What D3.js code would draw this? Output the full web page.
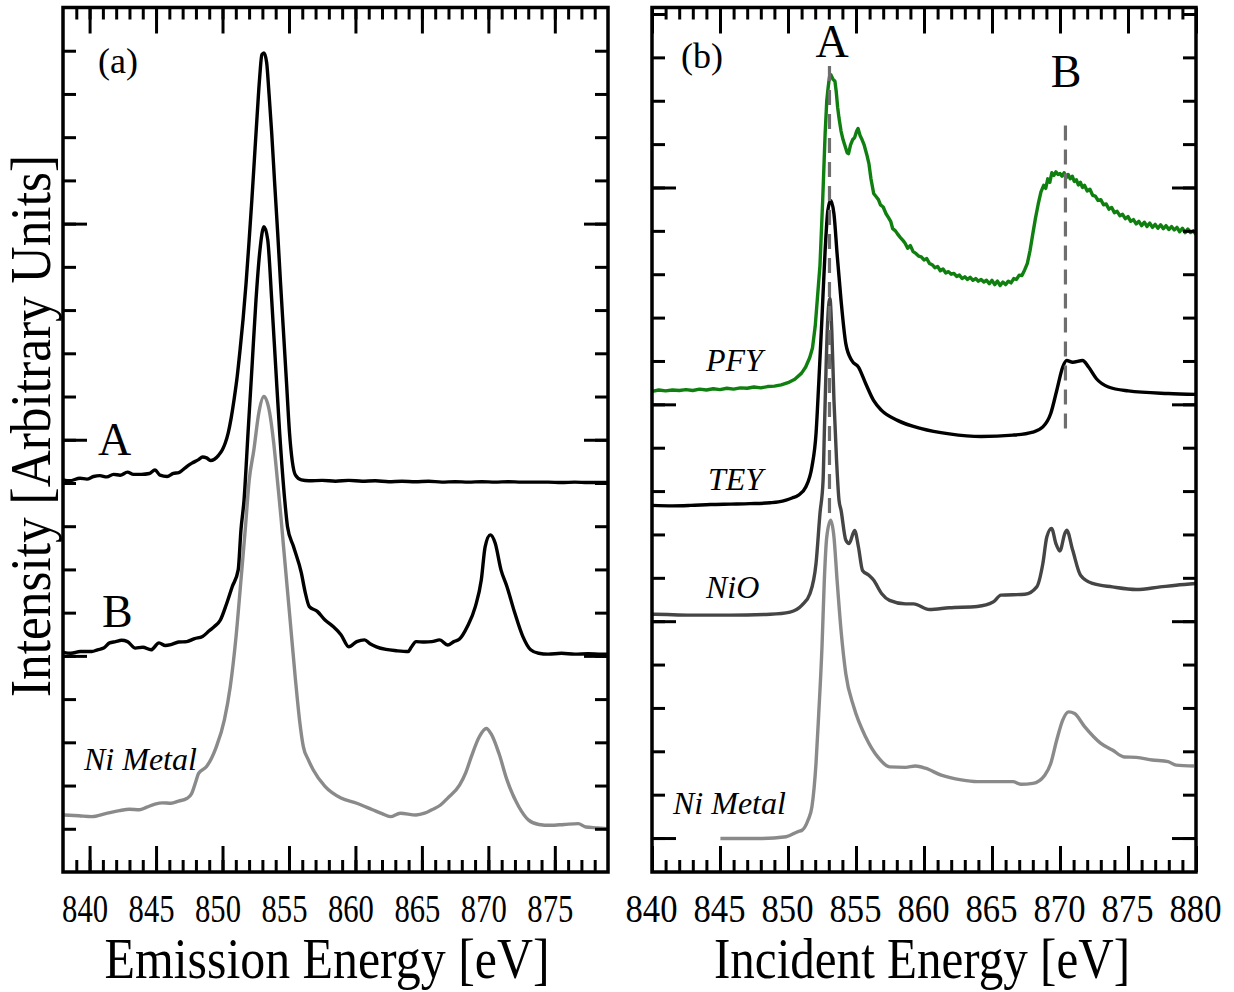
<!DOCTYPE html>
<html><head><meta charset="utf-8">
<script src="https://cdn.jsdelivr.net/npm/d3@7"></script>
<style>
body{margin:0;background:#fff}
svg{display:block}
text{font-family:"Liberation Serif","Times New Roman",serif;fill:#000}
</style>
</head><body>
<svg id="c" width="1234" height="992"></svg>
<script>
// ---------------- DATA ----------------
const leftTickLabels = [840,845,850,855,860,865,870,875];
const rightTickLabels = [840,845,850,855,860,865,870,875,880];

// Panel (a): emission spectra  [energy eV, intensity a.u.]
const emissionA = [[838.0,9.07],[838.5,9.05],[839.28,9.11],[839.8,9.09],[840.3,9.15],[840.77,9.17],[841.3,9.14],[841.8,9.2],[842.3,9.18],[842.85,9.25],[843.3,9.2],[843.9,9.2],[844.5,9.22],[844.92,9.3],[845.3,9.18],[845.83,9.15],[846.3,9.22],[846.71,9.24],[847.0,9.3],[847.31,9.38],[847.7,9.46],[848.2,9.54],[848.5,9.6],[848.8,9.58],[849.1,9.52],[849.39,9.55],[849.7,9.64],[849.99,9.77],[850.2,9.92],[850.43,10.16],[850.65,10.5],[850.87,10.93],[851.1,11.45],[851.32,12.08],[851.55,12.8],[851.77,13.61],[852.0,14.6],[852.21,15.56],[852.4,16.5],[852.6,17.48],[852.8,18.4],[852.96,18.91],[853.12,18.95],[853.32,18.73],[853.5,18.0],[853.7,17.10],[853.92,15.95],[854.15,14.79],[854.37,13.6],[854.59,12.48],[854.82,11.3],[855.04,10.16],[855.25,9.5],[855.49,9.18],[855.93,9.07],[856.5,9.05],[857.5,9.06],[858.5,9.04],[859.5,9.06],[860.5,9.04],[861.5,9.05],[862.5,9.03],[863.5,9.04],[864.5,9.03],[865.5,9.04],[866.5,9.02],[867.5,9.03],[868.5,9.02],[869.5,9.03],[870.5,9.02],[871.5,9.03],[872.5,9.02],[873.5,9.02],[874.5,9.02],[875.5,9.01],[876.5,9.02],[877.5,9.01],[878.5,9.01],[879,9.01]];

const emissionB = [[838.0,5.08],[838.6,5.06],[839.3,5.1],[840.17,5.10],[840.6,5.14],[841.06,5.18],[841.5,5.3],[841.96,5.33],[842.4,5.36],[842.85,5.33],[843.44,5.18],[844.0,5.2],[844.63,5.14],[845.22,5.30],[845.7,5.24],[846.12,5.26],[846.7,5.32],[847.31,5.33],[847.9,5.4],[848.5,5.45],[849.0,5.58],[849.39,5.68],[849.84,5.83],[850.3,6.2],[850.73,6.6],[851.18,6.99],[851.39,7.92],[851.62,8.61],[851.92,10.16],[852.22,11.69],[852.52,13.24],[852.82,14.40],[853.12,14.93],[853.40,14.63],[853.70,13.24],[854.00,11.69],[854.30,10.16],[854.68,8.61],[854.89,7.99],[855.34,7.53],[855.93,6.92],[856.2,6.5],[856.53,6.14],[857.13,6.03],[857.71,5.83],[858.32,5.68],[858.91,5.49],[859.50,5.21],[860.10,5.33],[860.69,5.37],[861.1,5.28],[861.58,5.21],[862.3,5.15],[863.07,5.12],[863.96,5.10],[864.2,5.2],[864.56,5.33],[865.2,5.32],[865.75,5.33],[866.34,5.37],[866.94,5.25],[867.4,5.33],[867.83,5.39],[868.42,5.68],[869.02,6.14],[869.47,6.76],[869.76,7.53],[870.15,7.80],[870.51,7.61],[870.95,6.99],[871.40,6.60],[871.99,5.99],[872.59,5.45],[873.18,5.14],[873.78,5.06],[874.5,5.04],[875.5,5.06],[876.5,5.04],[877.5,5.05],[878.5,5.04],[879,5.04]];

const emissionNiMetal = [[838.09,1.32],[839.2,1.3],[840.17,1.28],[841.2,1.35],[842.25,1.42],[843.0,1.45],[843.74,1.44],[844.3,1.5],[844.92,1.57],[845.5,1.6],[846.12,1.59],[846.7,1.64],[847.31,1.70],[847.67,1.81],[848.0,2.1],[848.20,2.28],[848.8,2.44],[849.2,2.65],[849.54,2.90],[850.14,3.52],[850.58,4.28],[851.02,5.45],[851.39,6.76],[851.71,7.92],[852.01,9.07],[852.36,9.77],[852.73,10.62],[853.11,11.0],[853.55,10.62],[853.85,9.93],[854.15,9.00],[854.4,8.2],[854.59,7.53],[855.04,5.99],[855.49,4.44],[855.8,3.5],[856.08,2.90],[856.45,2.6],[856.83,2.36],[857.71,1.98],[858.91,1.71],[860.10,1.59],[861.29,1.44],[862.0,1.35],[862.63,1.28],[863.37,1.36],[864.56,1.32],[865.2,1.36],[865.75,1.44],[866.4,1.55],[866.94,1.71],[867.83,2.01],[868.3,2.3],[868.72,2.67],[869.32,3.13],[869.85,3.32],[870.20,3.20],[870.80,2.74],[871.40,2.13],[872.29,1.51],[873.03,1.20],[873.8,1.1],[874.67,1.08],[875.7,1.1],[876.75,1.12],[877.34,1.04],[878.2,1.02],[878.98,1.0]];

// Panel (b): absorption spectra [incident energy eV, intensity a.u.]
const incidentPFY = [[840.0,10.30],[840.5,10.33],[841,10.31],[841.5,10.33],[842,10.32],[842.5,10.34],[843,10.32],[843.5,10.35],[844,10.33],[844.5,10.36],[845,10.34],[845.5,10.37],[846,10.35],[846.5,10.38],[847,10.37],[847.5,10.40],[848,10.38],[848.5,10.41],[849,10.42],[849.5,10.45],[850,10.50],[850.5,10.58],[851,10.72],[851.3,10.86],[851.6,11.08],[851.8,11.3],[852.0,11.8],[852.2,12.6],[852.35,13.2],[852.55,14.7],[852.73,16.24],[852.85,17.0],[852.95,17.3],[853.05,17.55],[853.15,17.6],[853.3,17.5],[853.45,17.45],[853.55,17.2],[853.65,16.85],[853.75,16.6],[853.9,16.3],[854.05,16.1],[854.2,15.95],[854.35,15.8],[854.45,15.78],[854.6,15.98],[854.75,16.1],[854.9,16.15],[855.05,16.3],[855.15,16.36],[855.3,16.2],[855.45,16.1],[855.6,15.98],[855.8,15.75],[855.95,15.55],[856.1,15.2],[856.3,14.86],[856.5,14.78],[856.65,14.72],[856.8,14.6],[857.0,14.55],[857.2,14.4],[857.4,14.3],[857.55,14.22],[857.7,14.05],[857.9,14.0],[858.05,13.93],[858.25,13.85],[858.45,13.78],[858.6,13.72],[858.8,13.60],[859.0,13.66],[859.2,13.52],[859.4,13.48],[859.6,13.42],[859.8,13.40],[860.0,13.33],[860.2,13.36],[860.4,13.25],[860.6,13.22],[860.8,13.15],[861.0,13.18],[861.2,13.08],[861.4,13.12],[861.6,13.03],[861.8,13.06],[862.0,13.0],[862.2,13.02],[862.4,12.95],[862.6,12.98],[862.8,12.9],[863.0,12.94],[863.2,12.88],[863.4,12.93],[863.6,12.86],[863.8,12.9],[864.0,12.84],[864.2,12.88],[864.4,12.82],[864.6,12.86],[864.8,12.78],[865.0,12.86],[865.2,12.76],[865.4,12.84],[865.6,12.74],[865.8,12.82],[866.0,12.76],[866.2,12.84],[866.4,12.8],[866.6,12.9],[866.8,12.88],[867.0,12.98],[867.2,12.97],[867.4,13.1],[867.6,13.25],[867.8,13.55],[868.0,13.93],[868.2,14.3],[868.4,14.62],[868.6,14.9],[868.8,15.05],[868.95,14.98],[869.1,15.2],[869.25,15.12],[869.4,15.34],[869.55,15.28],[869.7,15.36],[869.85,15.3],[870.0,15.32],[870.15,15.26],[870.3,15.34],[870.45,15.22],[870.6,15.3],[870.75,15.2],[870.9,15.26],[871.05,15.14],[871.2,15.18],[871.35,15.06],[871.5,15.12],[871.65,15.0],[871.8,15.05],[872.0,14.92],[872.2,14.96],[872.4,14.82],[872.6,14.8],[872.8,14.7],[873.0,14.72],[873.2,14.6],[873.4,14.62],[873.6,14.5],[873.8,14.54],[874.0,14.42],[874.2,14.45],[874.4,14.35],[874.6,14.38],[874.8,14.28],[875.0,14.33],[875.2,14.22],[875.4,14.26],[875.6,14.16],[875.8,14.22],[876.0,14.12],[876.2,14.2],[876.4,14.1],[876.6,14.18],[876.8,14.08],[877.0,14.15],[877.2,14.06],[877.4,14.14],[877.6,14.05],[877.8,14.12],[878.0,14.03],[878.2,14.1],[878.4,14.02],[878.6,14.08],[878.8,13.98],[879.0,14.06],[879.2,13.96],[879.4,14.04],[879.6,13.96],[879.8,14.0],[880.0,13.92]];

const incidentTEY = [[840.0,7.67],[841.5,7.66],[842.84,7.67],[844.3,7.69],[845.76,7.70],[847.2,7.71],[848.69,7.73],[849.3,7.75],[849.86,7.79],[850.3,7.84],[850.74,7.90],[851.32,8.10],[851.76,8.56],[852.06,9.32],[852.26,10.48],[852.50,12.01],[852.73,13.55],[852.93,14.47],[853.14,14.70],[853.38,14.39],[853.61,13.47],[853.90,12.40],[854.25,11.40],[854.69,11.01],[855.18,10.86],[855.71,10.48],[856.29,10.09],[856.88,9.86],[858.05,9.63],[859.81,9.44],[861.86,9.32],[864.20,9.26],[866.54,9.29],[868.00,9.36],[868.74,9.48],[869.32,9.79],[869.76,10.32],[870.20,10.86],[870.49,11.01],[870.93,10.97],[871.66,11.01],[872.10,10.86],[872.68,10.59],[873.56,10.40],[875.02,10.31],[877.95,10.25],[880.00,10.23]];

const incidentNiO = [[840.0,5.16],[840.21,5.16],[842.84,5.14],[845.76,5.14],[848.69,5.16],[850.15,5.21],[851.03,5.37],[851.62,5.64],[852.06,6.33],[852.35,7.48],[852.58,8.25],[852.67,9.32],[852.80,10.86],[852.92,11.94],[853.08,12.44],[853.22,11.7],[853.38,10.09],[853.57,8.71],[853.75,7.79],[853.90,7.56],[854.25,6.87],[854.49,6.79],[854.90,7.09],[855.18,6.71],[855.48,6.17],[855.95,6.06],[856.29,5.95],[856.88,5.64],[857.47,5.48],[858.64,5.40],[859.23,5.40],[860.40,5.27],[861.86,5.31],[863.91,5.34],[865.08,5.44],[865.66,5.60],[867.42,5.62],[868.29,5.79],[868.74,6.33],[869.03,6.94],[869.38,7.14],[869.70,6.79],[869.99,6.62],[870.35,7.02],[870.49,7.10],[870.93,6.64],[871.51,6.06],[872.39,5.87],[873.85,5.79],[875.61,5.73],[877.37,5.79],[878.54,5.83],[880.00,5.87]];

const incidentNiMetal = [[845.03,-0.01],[848.10,-0.01],[849.86,0.03],[850.74,0.15],[851.03,0.18],[851.47,0.41],[851.76,0.72],[852.06,1.72],[852.26,2.87],[852.50,4.41],[852.67,5.94],[852.85,6.94],[853.14,7.33],[853.38,6.94],[853.61,5.94],[853.90,4.79],[854.25,3.79],[854.84,3.02],[855.71,2.33],[856.60,1.87],[857.47,1.64],[858.64,1.63],[859.37,1.66],[860.10,1.61],[861.27,1.45],[862.74,1.34],[863.91,1.30],[866.54,1.30],[867.12,1.24],[868.00,1.26],[868.88,1.45],[869.32,1.72],[869.76,2.26],[870.20,2.72],[870.64,2.91],[871.07,2.87],[871.81,2.57],[872.98,2.19],[873.85,2.03],[874.73,1.87],[875.61,1.86],[876.78,1.80],[877.95,1.76],[878.54,1.68],[879.85,1.66]];

// dashed guide lines (energy, top, bottom)
const guideEnergy = [853.05, 870.4];
const guideTop = [17.8, 16.43];
const guideBottom = [7.3, 9.35];

// ---------------- DRAW ----------------
const svg = d3.select("#c");
const FONT = '"Liberation Serif","Times New Roman",serif';

function range(a, b){ const r=[]; for(let i=a;i<=b;i++) r.push(i); return r; }

function drawPanel(o){
  const x = d3.scaleLinear().domain(o.xd).range([o.x0, o.x1]);
  const y = d3.scaleLinear().domain(o.yd).range([o.y0, o.y1]);
  const g = svg.append("g");
  const line = (curve) => d3.line().x(d=>x(d[0])).y(d=>y(d[1])).curve(curve);

  o.series.forEach(s => {
    g.append("path").datum(s.data)
      .attr("d", line(s.linear ? d3.curveLinear : d3.curveMonotoneX))
      .attr("fill","none").attr("stroke", s.color).attr("stroke-width", 3.4)
      .attr("stroke-linejoin","round");
  });
  if (o.guides) {
    o.guides.forEach(gd => {
      g.append("path").datum([[gd[0],gd[1]],[gd[0],gd[2]]])
        .attr("d", line(d3.curveLinear))
        .attr("stroke","#6e6e6e").attr("stroke-width",3.2)
        .attr("stroke-dasharray","15,9").attr("fill","none");
    });
  }

  const clean = sel => {
    sel.select(".domain").remove();
    sel.attr("font-family", null).attr("font-size", null);
    sel.selectAll("line").attr("stroke","#000").attr("stroke-width",3);
  };
  // x minor ticks
  g.append("g").attr("transform",`translate(0,${o.y0})`)
    .call(d3.axisBottom(x).tickValues(o.xMinor).tickSizeInner(-12).tickSizeOuter(0).tickFormat("")).call(clean);
  g.append("g").attr("transform",`translate(0,${o.y1})`)
    .call(d3.axisTop(x).tickValues(o.xMinor).tickSizeInner(-12).tickSizeOuter(0).tickFormat("")).call(clean);
  // x major ticks
  const xb = g.append("g").attr("transform",`translate(0,${o.y0})`)
    .call(d3.axisBottom(x).tickValues(o.xMajor).tickSizeInner(-26).tickSizeOuter(0).tickFormat(d3.format("d"))).call(clean);
  xb.selectAll("text").attr("y", 50).attr("dy", null).attr("dx", o.labelDx)
    .attr("fill","#000").style("font-family", FONT).style("font-size","40px")
    .attr("textLength", o.labelW).attr("lengthAdjust","spacingAndGlyphs");
  g.append("g").attr("transform",`translate(0,${o.y1})`)
    .call(d3.axisTop(x).tickValues(o.xMajor).tickSizeInner(-26).tickSizeOuter(0).tickFormat("")).call(clean);
  // y ticks
  g.append("g").attr("transform",`translate(${o.x0},0)`)
    .call(d3.axisLeft(y).tickValues(o.yMinor).tickSizeInner(-13).tickSizeOuter(0).tickFormat("")).call(clean);
  g.append("g").attr("transform",`translate(${o.x1},0)`)
    .call(d3.axisRight(y).tickValues(o.yMinor).tickSizeInner(-13).tickSizeOuter(0).tickFormat("")).call(clean);
  g.append("g").attr("transform",`translate(${o.x0},0)`)
    .call(d3.axisLeft(y).tickValues(o.yMajor).tickSizeInner(-24).tickSizeOuter(0).tickFormat("")).call(clean);
  g.append("g").attr("transform",`translate(${o.x1},0)`)
    .call(d3.axisRight(y).tickValues(o.yMajor).tickSizeInner(-24).tickSizeOuter(0).tickFormat("")).call(clean);

  g.append("rect").attr("x", o.x0).attr("y", o.y1).attr("width", o.x1-o.x0).attr("height", o.y0-o.y1)
    .attr("fill","none").attr("stroke","#000").attr("stroke-width",3.5);
  return {x, y, g};
}

// Panel (a)
drawPanel({
  xd:[838,879], x0:63, x1:608, yd:[0,20], y0:872, y1:7.5,
  xMinor: range(839,878), xMajor: leftTickLabels,
  yMinor: range(1,19), yMajor:[5,10,15],
  labelDx: -5, labelW: 46,
  series:[
    {data: emissionNiMetal, color:"#8a8a8a"},
    {data: emissionB, color:"#000"},
    {data: emissionA, color:"#000"}
  ]
});

// Panel (b)
drawPanel({
  xd:[840,880], x0:652, x1:1196, yd:[-0.783,19.15], y0:872, y1:7.5,
  xMinor: range(841,879), xMajor: rightTickLabels,
  yMinor: range(0,19), yMajor:[0,5,10,15],
  labelDx: -1, labelW: 52,
  series:[
    {data: incidentNiMetal, color:"#8a8a8a"},
    {data: incidentNiO, color:"#454545"},
    {data: incidentTEY, color:"#000"},
    {data: incidentPFY, color:"#0f800f", linear:true}
  ],
  guides: guideEnergy.map((e,i)=>[e, guideTop[i], guideBottom[i]])
});

// ---------------- TEXT ----------------
function txt(x, y, s, size, opts={}){
  const t = svg.append("text").attr("x", x).attr("y", y).text(s)
    .style("font-family", FONT).style("font-size", size+"px");
  if (opts.italic) t.style("font-style","italic");
  if (opts.anchor) t.attr("text-anchor", opts.anchor);
  if (opts.len) t.attr("textLength", opts.len).attr("lengthAdjust","spacingAndGlyphs");
  return t;
}
// axis titles
svg.append("text").attr("transform","translate(50,426) rotate(-90)")
  .attr("text-anchor","middle").style("font-family",FONT).style("font-size","56px")
  .attr("textLength",542).attr("lengthAdjust","spacingAndGlyphs")
  .text("Intensity [Arbitrary Units]");
txt(327, 978, "Emission Energy [eV]", 56, {anchor:"middle", len:445});
txt(922, 978, "Incident Energy [eV]", 56, {anchor:"middle", len:416});

// panel tags
txt(98, 73, "(a)", 36);
txt(681, 68, "(b)", 36);
// peak markers
txt(98, 455, "A", 46);
txt(102, 627, "B", 46);
txt(832, 57, "A", 46, {anchor:"middle"});
txt(1066, 87, "B", 46, {anchor:"middle"});
// series labels
txt(84, 770, "Ni Metal", 32, {italic:true});
txt(706, 371, "PFY", 32, {italic:true});
txt(708, 490, "TEY", 32, {italic:true});
txt(706, 598, "NiO", 32, {italic:true});
txt(673, 814, "Ni Metal", 32, {italic:true});
</script>
</body></html>
